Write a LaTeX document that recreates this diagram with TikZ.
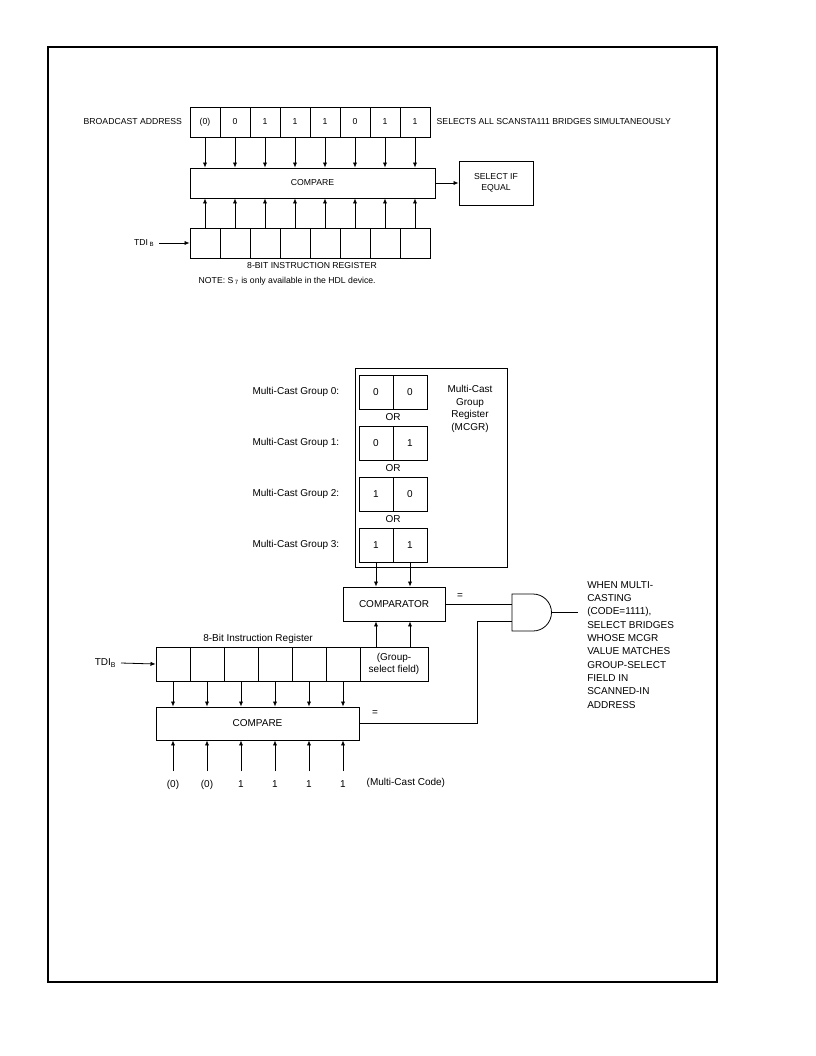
\documentclass[tikz,border=0pt]{standalone}
\usepackage{fontspec}
\setmainfont{Liberation Sans}
\usetikzlibrary{arrows.meta}
\newcommand\fsA{\fontsize{6.5}{8}\selectfont}
\newcommand\fsB{\fontsize{7.5}{9.4}\selectfont}
\newcommand\fsC{\fontsize{7.5}{10}\selectfont}
\begin{document}
\begin{tikzpicture}[x=0.75pt,y=-0.75pt,
  ln/.style={line width=0.6pt},
  arr/.style={ln,-{Latex[length=3.8pt,width=3.2pt]}},
  cellT/.style={draw,ln,inner sep=0pt,minimum width=22.5pt,minimum height=22.5pt,font=\fsA},
  cellB/.style={draw,ln,inner sep=0pt,minimum width=25.5pt,minimum height=25.5pt,font=\fsB,align=center},
  txtA/.style={font=\fsA},
  txtB/.style={font=\fsB},
  digit/.style={font=\fsB,text height=1.6ex,text depth=0.45ex}]
\useasboundingbox (0,0) rectangle (816,1056);
\draw[line width=1pt] (48,47) rectangle (717,982);

% ---------- top diagram ----------
\node[txtA,anchor=west] (bal) at (79,122) {BROADCAST ADDRESS};
\foreach \v [count=\i from 0] in {{(0)},0,1,1,1,0,1,1}
  \node[cellT] (t\i) at ({205+30*\i},122) {\v};
\node[txtA,anchor=west] (sal) at (432,122) {SELECTS ALL SCANSTA111 BRIDGES SIMULTANEOUSLY};
\node[draw,ln,minimum width=183.75pt,minimum height=22.5pt,txtA] (cmp1) at (312.5,183) {COMPARE};
\node[draw,ln,minimum width=55.5pt,minimum height=33pt,txtA,align=center] (sel) at (496,183) {SELECT IF\\EQUAL};
\draw[arr] (cmp1.east) -- (sel.west);
\foreach \i in {0,...,7}{
  \node[cellT] (b\i) at ({205+30*\i},243) {};
  \draw[arr] (t\i.south) -- (t\i.south |- cmp1.north);
  \draw[arr] (b\i.north) -- (b\i.north |- cmp1.south);
}
\node[txtA,anchor=east] (tdi1) at (159,243) {TDI\,\textsubscript{B}};
\draw[arr] (tdi1.east) -- (b0.west);
\node[txtA] (irt) at (312,266) {8-BIT INSTRUCTION REGISTER};
\node[txtA,anchor=west] (nt) at (194,281) {NOTE: S\,\textsubscript{7} is only available in the HDL device.};

% ---------- bottom diagram ----------
\node[draw,ln,minimum width=114pt,minimum height=149.25pt] (mcgr) at (431,467.5) {};
\foreach \a/\b [count=\k from 0] in {0/0,0/1,1/0,1/1}{
  \node[cellB] (ga\k) at (376,{392+51*\k}) {\a};
  \node[cellB] (gb\k) at (410,{392+51*\k}) {\b};
  \node[txtB,anchor=east] (gl\k) at (344,{392+51*\k}) {Multi-Cast Group \k:};
}
\foreach \k in {1,2,3}
  \node[txtB] (or\k) at (393,{417+51*(\k-1)}) {OR};
\node[txtB,align=center] (mcgrt) at (470,409) {Multi-Cast\\Group\\Register\\(MCGR)};

\node[draw,ln,minimum width=76.5pt,minimum height=25.5pt,txtB] (cmpr) at (394,604) {COMPARATOR};
\draw[arr] (ga3.south) -- (ga3.south |- cmpr.north);
\draw[arr] (gb3.south) -- (gb3.south |- cmpr.north);
\node[txtB] (eq1) at (460,596) {=};

\node[txtB] (irl) at (258,639) {8-Bit Instruction Register};
\foreach \k in {0,...,5}
  \node[cellB] (r\k) at ({173+34*\k},664) {};
\node[cellB,minimum width=51pt] (rg) at (394,664) {(Group-\\select field)};
\draw[arr] (rg.north -| ga3) -- (ga3 |- cmpr.south);
\draw[arr] (rg.north -| gb3) -- (gb3 |- cmpr.south);
\node[txtB,anchor=east] (tdi2) at (121,663) {TDI\textsubscript{B}};
\draw[arr] (tdi2.east) -- (r0.west);

\node[draw,ln,minimum width=152.25pt,minimum height=24.75pt,txtB] (cmp2) at (257.5,723.5) {COMPARE};
\node[txtB] (eq2) at (375,713) {=};
\foreach \v [count=\k from 0] in {{(0)},{(0)},1,1,1,1}{
  \draw[arr] (r\k.south) -- (r\k.south |- cmp2.north);
  \node[digit] (c\k) at ({173+34*\k},783) {\v};
  \draw[arr] (c\k.north) -- (c\k.north |- cmp2.south);
}
\node[txtB,anchor=west] (mcc) at (362,783) {(Multi-Cast Code)};

% AND gate
\coordinate (gin1) at (512,604);
\coordinate (gin2) at (512,621);
\coordinate (gout) at (551.5,612.5);
\coordinate (oend) at (578,612.5);
\coordinate (jn) at (477,723.5);
\draw[ln] (512,594) -- (533,594) arc[start angle=90,end angle=-90,radius=13.875pt] -- (512,631) -- cycle;
\draw[ln] (cmpr.east) -- (gin1);
\draw[ln] (cmp2.east) -- (jn) |- (gin2);
\draw[ln] (gout) -- (oend);
\node[font=\fsC,anchor=north west,align=left,inner sep=0pt] (wmc) at (587,581) {WHEN MULTI-\\CASTING\\(CODE=1111),\\SELECT BRIDGES\\WHOSE MCGR\\VALUE MATCHES\\GROUP-SELECT\\FIELD IN\\SCANNED-IN\\ADDRESS};
\end{tikzpicture}
\end{document}
